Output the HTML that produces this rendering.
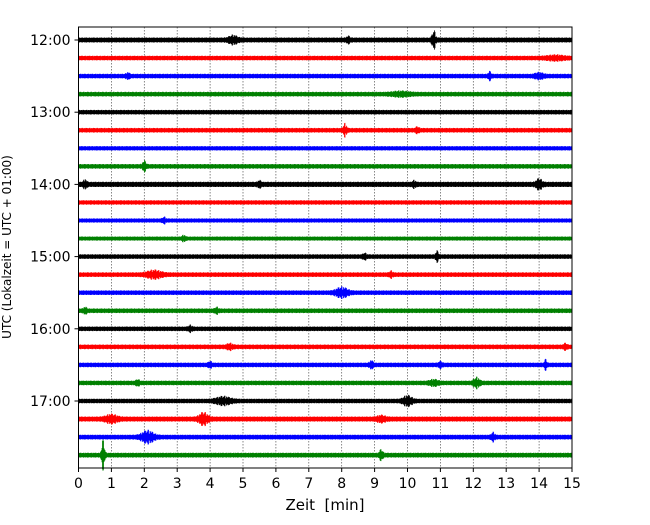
<!DOCTYPE html>
<html><head><meta charset="utf-8"><style>
body{margin:0;background:#fff}
svg text{font-family:"DejaVu Sans","Liberation Sans",sans-serif}
</style></head><body>
<svg id="c" width="650" height="520"></svg>
<script>
const minutes=[0,1,2,3,4,5,6,7,8,9,10,11,12,13,14,15];
const hourLabels=["12:00","13:00","14:00","15:00","16:00","17:00"];
const traceCount=24;
const colors=["#000000","#ff0000","#0000ff","#008000"];
const baseAmp=[2.3,2.1,2.1,2.1,2.1,2.1,2,2.1,2.4,2,1.9,1.9,2.1,2.1,2.1,2.1,2.1,2.1,2.1,2.1,2.1,2.3,2.2,2.2];
// events: [trace index, minute, half amplitude px, width min]
const events=[[0,4.7,3,0.15],[0,10.8,8,0.06],[0,8.2,2,0.06],[1,14.5,1.5,0.3],[2,12.5,3,0.05],[2,1.5,2,0.06],[2,14,2,0.15],[3,9.8,1.5,0.3],
[5,8.1,5,0.06],[5,10.3,2,0.06],[7,2.0,4,0.06],[8,0.2,3,0.06],[8,14,4,0.1],[8,5.5,2,0.06],[8,10.2,2,0.06],[10,2.6,2,0.06],[11,3.2,2,0.06],
[12,10.9,4,0.05],[12,8.7,2,0.06],[13,2.3,3,0.25],[13,9.5,2,0.06],[14,8.0,4,0.2],[15,4.2,2,0.06],[15,0.2,2,0.06],[16,3.4,2,0.06],
[17,4.6,2,0.1],[17,14.8,2,0.06],[18,4.0,2,0.06],[18,8.9,3,0.06],[18,11,2,0.06],[18,14.2,4,0.04],[19,12.1,4,0.1],[19,10.8,2,0.15],[19,1.8,2,0.06],
[20,4.4,3,0.25],[20,10,4,0.15],[21,1.0,3,0.2],[21,3.8,5,0.15],[21,9.2,2,0.15],[22,2.1,5,0.2],[22,12.6,3,0.06],[23,0.75,14,0.05],[23,9.2,4,0.06]];
const NS="http://www.w3.org/2000/svg";
const svg=document.getElementById('c');
const L=78.5,R=572,T=27,B=468;
const xs=t=>L+(R-L)*t/15;
const ys=i=>40+i*18.05;
function mk(tag,attrs,parent){const e=document.createElementNS(NS,tag);for(const k in attrs)e.setAttribute(k,attrs[k]);(parent||svg).appendChild(e);return e;}
const g=mk('g',{});


minutes.forEach(m=>{if(m>0&&m<15){mk('line',{x1:xs(m),x2:xs(m),y1:T,y2:B,stroke:'#555','stroke-width':0.7,'stroke-dasharray':'1.5,1.5'},g);}});
const jit=[1,0.55,0.85,0.3,1,0.7,0.45,0.95,0.6,0.8,0.35,1,0.65,0.5,0.9];
for(let i=0;i<traceCount;i++){
  let d='';
  const n=Math.round((R-L)*2);
  for(let k=0;k<=n;k++){
    const t=15*k/n;
    const j=jit[(k*7+i*3)%jit.length];
    let a=baseAmp[i]*(0.75+0.35*j);
    events.forEach(e=>{if(e[0]===i){a+=e[2]*j*Math.exp(-Math.pow((t-e[1])/e[3],2));}});
    const x=xs(t).toFixed(2);
    d+='M'+x+' '+(ys(i)-a).toFixed(1)+'V'+(ys(i)+a).toFixed(1);
  }
  const p=mk('path',{d:d,stroke:colors[i%4],'stroke-width':0.8,fill:'none'});
  
  
}
const fr=mk('rect',{x:L,y:T,width:R-L,height:B-T,fill:'none',stroke:'#000','stroke-width':1});


minutes.forEach(m=>{
  mk('line',{x1:xs(m),x2:xs(m),y1:B,y2:B+4,stroke:'#000'});
  const t=mk('text',{x:xs(m),y:B+20,'text-anchor':'middle','font-size':14});t.textContent=m;
  
  
});
hourLabels.forEach((h,j)=>{
  const y=ys(j*4);
  mk('line',{x1:L-4,x2:L,y1:y,y2:y,stroke:'#000'});
  const t=mk('text',{x:L-8,y:y+5,'text-anchor':'end','font-size':14});t.textContent=h;
  
  
});
const xt=mk('text',{x:325,y:510,'text-anchor':'middle','font-size':15});xt.textContent='Zeit  [min]';


xt.style.whiteSpace='pre';
const yt=mk('text',{x:0,y:0,'text-anchor':'middle','font-size':12,transform:'translate(11,247) rotate(-90)'});yt.textContent='UTC (Lokalzeit = UTC + 01:00)';


</script>
</body></html>
